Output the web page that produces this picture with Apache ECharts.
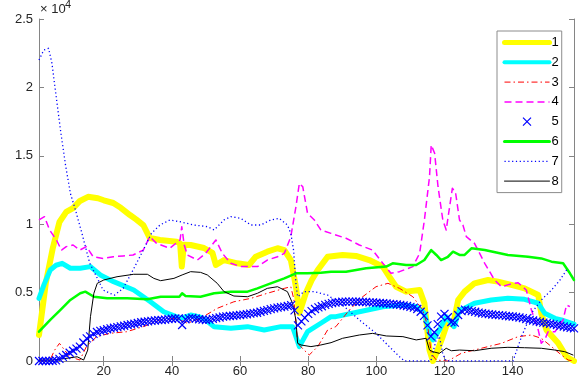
<!DOCTYPE html>
<html>
<head>
<meta charset="utf-8">
<script src="https://cdn.jsdelivr.net/npm/echarts@6/dist/echarts.min.js"></script>
<style>
  html, body { margin: 0; padding: 0; background: #fff; }
  #chart { width: 582px; height: 381px; }
</style>
</head>
<body>
<div id="chart"></div>
<script>
// x 刻度
const xTicks = [20, 40, 60, 80, 100, 120, 140];
const legendNames = ["1", "2", "3", "4", "5", "6", "7", "8"];

// 各曲线 [x, y]
const s1 = [[1,1900],[3,5700],[5,8200],[7,10160],[9,10900],[11,11180],[13,11700],[15.4,12000],[18.3,11900],[20,11750],[22.8,11550],[25,11200],[27.7,10670],[29.5,10350],[31.6,9940],[33.5,8990],[36.5,8850],[41.4,8720],[42.4,8600],[42.9,6900],[43.5,8500],[45.5,8480],[49.4,8260],[51.9,7900],[52.9,7020],[55.3,7380],[59.2,7140],[62.6,7020],[64.6,7620],[68,7990],[71,8240],[73,8110],[74.9,7380],[75.6,6500],[76.4,5430],[77.4,3500],[79.3,4970],[81,5900],[82.8,6650],[85.7,7620],[90.1,7750],[94,7680],[97.9,7380],[101.9,6900],[103.8,6160],[105.8,5430],[108.7,5070],[112.7,5190],[114.1,4220],[115.6,800],[116.6,0],[118,800],[119.5,1800],[121,2900],[122.5,2600],[124,4460],[125.9,5070],[128.8,5680],[132.8,5920],[135.7,5800],[139.6,5560],[143.5,5310],[147.5,4830],[148.4,3490],[149.9,2270],[153.4,1290],[155.8,310],[158,0]];
const s2 = [[1,4580],[2.5,5600],[4.3,6650],[6,7000],[7.8,7140],[10.2,6780],[13.1,6780],[16.1,6900],[19,6290],[22.9,5800],[28.8,5190],[33.7,4330],[37.6,3600],[42.6,3120],[45.5,3360],[48.4,3200],[49.9,3000],[52.4,2510],[57.3,2390],[62.2,2510],[67.1,2270],[72,2510],[75.4,2510],[76.4,1780],[77.4,1050],[79.8,2140],[83.7,2760],[86.7,3240],[88.1,3240],[95,3600],[101.9,3970],[107.8,4090],[111.7,3970],[114.1,3490],[115.6,2020],[116.6,1540],[118.5,2270],[120.5,3240],[122,2760],[122.8,2510],[124.4,3730],[125.9,3850],[128.8,4220],[133.7,4460],[138.6,4580],[143.5,4510],[147.5,4220],[149.4,3490],[152.4,3120],[154.3,3000],[158,2700]];
const s3 = [[1,0],[4.1,0],[5.6,800],[7,1290],[8.5,800],[10,310],[13,70],[14.9,1050],[17.9,1780],[21.8,2020],[26.7,2140],[31.6,2510],[36.5,3000],[41.4,3120],[44.5,2760],[48.4,3120],[53.3,3850],[58.2,4330],[63.2,4580],[68,4950],[73,5310],[74.9,5430],[75.8,4500],[76.9,1290],[78.8,800],[80.3,440],[82.8,1050],[85.7,2270],[88.1,2510],[92.1,3730],[96,4700],[99.9,5430],[103.4,5680],[106.8,5310],[110.7,4700],[113.6,3730],[115.1,2510],[116.1,560],[117.6,70],[121,0],[124.9,560],[130.8,930],[136.7,1290],[141.6,1780],[145.5,1900],[148.4,1660],[151.4,1050],[154.3,440],[156.3,70],[158,0]];
const s4 = [[1,10310],[2.6,10550],[4.1,9580],[6.1,8850],[7.6,8110],[9,8360],[11,8480],[13,8110],[14.9,8360],[16.9,7620],[19.8,7500],[22.8,7620],[25.7,7680],[28.6,7750],[31.6,8110],[33.5,9090],[35.5,8600],[39.4,8240],[42.4,8850],[42.9,9820],[43.6,8500],[44.5,7750],[47.5,7380],[49.9,7870],[52.9,8850],[54.8,7870],[57.3,7140],[60.2,6900],[65.1,6900],[68,7380],[71,7620],[73,7870],[74.9,9090],[76.4,11280],[77.4,12990],[78.4,12740],[79.8,10800],[81.8,10310],[83.7,9580],[86.7,9330],[91.1,8970],[95,8480],[98.9,8110],[101.9,7140],[104.3,6410],[106.8,6530],[110.7,6900],[112.7,7870],[114.1,10310],[115.6,13470],[116.1,15790],[117.1,15180],[118.1,12740],[119.5,10310],[120.5,9580],[121.5,11280],[122.3,12620],[123.2,12380],[124.4,10310],[125.4,9940],[126.4,9090],[128.8,8600],[131.8,7140],[134.7,5920],[136.7,5430],[139,5600],[141.6,5720],[144,5190],[145.5,3730],[147.5,2270],[148.4,1290],[149.5,1600],[150.4,2140],[152.4,2140],[154.8,3000],[155.8,4090],[156.8,3970]];
// 5 号是标记点, x = 1..158
const s5 = [
  0,0,0,0,20,50,150,300,440,600,
  750,900,1050,1350,1650,1800,1980,2120,2200,2250,
  2320,2390,2430,2480,2530,2580,2630,2680,2720,2780,
  2830,2870,2900,2930,2960,2990,3000,3030,3060,3090,
  3110,3120,2630,3050,3120,3150,3100,3050,3020,3000,
  3020,3080,3130,3180,3240,3260,3290,3310,3340,3360,
  3390,3420,3460,3500,3530,3600,3660,3720,3790,3850,
  3900,3940,3970,4020,4080,3700,2600,2900,3150,3450,
  3650,3800,3920,4000,4100,4180,4230,4270,4300,4330,
  4340,4340,4340,4330,4330,4320,4310,4290,4280,4260,
  4240,4220,4200,4180,4160,4130,4100,4060,4020,3960,
  3900,3800,3600,3300,2600,1800,2100,2700,3240,3450,
  3200,2850,2800,3360,3650,3750,3700,3650,3600,3540,
  3490,3460,3430,3400,3370,3350,3330,3300,3270,3250,
  3220,3180,3130,3070,3010,2960,2900,2850,2800,2770,
  2720,2680,2630,2570,2520,2470,2420,2390
];
const s6 = [[1,2140],[4.3,3000],[7.3,3730],[10.2,4460],[13.1,4950],[14.6,5070],[17.1,4700],[21,4580],[26.9,4580],[32.8,4510],[36.7,4700],[42.2,4700],[43,4950],[44,4750],[48.4,4700],[52.4,4950],[57.3,5070],[62.2,5070],[65.1,5310],[69,5680],[73,6040],[76.4,6410],[79.8,6410],[83.7,6450],[86.7,6530],[91.1,6530],[97,6780],[102.9,6900],[104.8,7140],[108.7,7020],[111.7,7020],[114.1,7380],[116.1,8110],[117.6,7750],[119,7380],[121,7620],[122.5,7990],[124.4,7750],[125.9,7750],[127.9,8240],[131.8,8110],[138.6,7750],[144.5,7620],[148.4,7500],[151.4,7260],[154.8,7140],[156.8,6410],[158,5920]];
const s7 = [[1,22000],[2.4,22730],[3.8,22860],[4.8,21760],[5.8,19800],[6.8,17860],[7.3,16900],[8.7,14450],[10.2,12260],[11.7,11040],[13.6,9330],[15.9,7140],[17.9,6160],[19.8,5190],[21.8,4950],[23.2,4820],[25.7,5310],[28.6,6650],[31.6,8110],[34,9330],[36.5,9940],[39.4,10310],[42.4,10180],[46.5,9940],[50.4,9820],[52.4,9580],[55.3,10310],[57.3,10550],[60.2,10430],[63.2,9940],[66.1,9940],[69,10310],[71.5,10430],[73.9,9940],[74.9,9330],[75.7,8110],[76.4,5680],[76.9,4700],[78.8,5070],[81.8,5070],[85.7,4820],[90.1,4090],[95,3000],[99.9,2020],[103.8,1050],[106.8,310],[108.3,0],[116,0],[117.5,1500],[118.5,1800],[119.5,500],[120.5,0],[140.1,0],[142.6,1780],[145.5,3490],[148.4,4460],[151.4,5190],[153.9,5920],[155.8,6650],[156.3,6780]];
const s8 = [[1,70],[5,70],[9.2,200],[12.2,310],[14.1,70],[15.3,800],[16.1,3240],[17.1,4950],[18.1,5680],[20,5920],[23.9,6160],[28.8,6340],[32.8,6340],[34.7,6040],[36.7,5870],[40.6,6040],[43,6290],[45.5,6530],[48.4,6480],[50.4,6290],[53.3,5680],[55.3,5070],[58.2,4750],[62.2,4700],[65.1,4950],[68,5310],[71,5430],[73.9,5070],[75.4,4220],[76.4,3000],[76.9,1290],[77.9,1170],[80.8,1050],[83.7,1170],[86.7,1340],[90.1,1660],[95,1900],[98.9,2020],[102.9,1830],[107.8,1780],[111.7,1540],[114.6,1660],[115.6,800],[116.6,680],[118.5,560],[120.5,930],[122,750],[124.4,800],[128.8,750],[133.7,930],[138.6,1000],[143.5,970],[148.4,930],[152.4,800],[155.3,680],[157.7,440]];

const axisColor = "#858585";
const textColor = "#262626";
const font = "Liberation Sans";
const crossPath = "path://M0,0L10,10M10,0L0,10";

function lineSeries(name, data, color, width, type, cap) {
  return {
    name: name,
    type: "line",
    data: data,
    symbol: "none",
    smooth: false,
    lineStyle: { color: color, width: width, type: type || "solid", cap: cap || "round", join: "round" },
    itemStyle: { color: color },
    emphasis: { disabled: true },
  };
}

function xAxisOpt(pos, showLabel) {
  return {
    type: "value",
    position: pos,
    min: 1,
    max: 158,
    axisLine: { show: true, lineStyle: { color: axisColor, width: 1 } },
    axisTick: { show: true, inside: true, length: 5, customValues: xTicks, lineStyle: { color: axisColor } },
    axisLabel: { show: showLabel, customValues: xTicks, color: textColor, fontSize: 13, fontFamily: font, margin: 4 },
    splitLine: { show: false },
  };
}

function yAxisOpt(pos, showLabel) {
  return {
    type: "value",
    position: pos,
    min: 0,
    max: 25000,
    interval: 5000,
    axisLine: { show: true, lineStyle: { color: axisColor, width: 1 } },
    axisTick: { show: true, inside: true, length: 5, lineStyle: { color: axisColor } },
    axisLabel: {
      show: showLabel,
      color: textColor,
      fontSize: 13,
      fontFamily: font,
      margin: 6,
      formatter: (v) => String(v / 10000),
    },
    splitLine: { show: false },
  };
}

// 图例里只画线, 不画点
const hideDot = { opacity: 0 };

const chart = echarts.init(document.getElementById("chart"), null, { renderer: "canvas" });

const option = {
  animation: false,
  backgroundColor: "#fff",
  grid: { left: 39, right: 8, top: 19, bottom: 20, containLabel: false, outerBoundsMode: "none" },
  xAxis: [xAxisOpt("bottom", true), xAxisOpt("top", false)],
  yAxis: [yAxisOpt("left", true), yAxisOpt("right", false)],
  graphic: [
    { type: "text", left: 40, top: 3, style: { text: "× 10", font: "13px 'Liberation Sans'", fill: textColor } },
    { type: "text", left: 65, top: -1, style: { text: "4", font: "11px 'Liberation Sans'", fill: textColor } },
  ],
  legend: {
    orient: "vertical",
    left: 497,
    top: 31,
    padding: [5, 3, 5, 5],
    itemWidth: 45,
    itemHeight: 10,
    itemGap: 6.8,
    borderColor: "#8c8c8c",
    borderWidth: 1,
    backgroundColor: "#fff",
    selectedMode: false,
    textStyle: { fontSize: 13, fontFamily: font, color: "#000", lineHeight: 10, padding: [0, 0, 0, -3] },
    data: [
      { name: legendNames[0], lineStyle: { width: 5 }, itemStyle: hideDot },
      { name: legendNames[1], lineStyle: { width: 4 }, itemStyle: hideDot },
      { name: legendNames[2], lineStyle: { width: 1 }, itemStyle: hideDot },
      { name: legendNames[3], lineStyle: { width: 1.5 }, itemStyle: hideDot },
      { name: legendNames[4], itemStyle: { borderWidth: 1.2, borderColor: "#0000ff" } },
      { name: legendNames[5], lineStyle: { width: 3 }, itemStyle: hideDot },
      { name: legendNames[6], lineStyle: { width: 1.3 }, itemStyle: hideDot },
      { name: legendNames[7], lineStyle: { width: 1 }, itemStyle: hideDot },
    ],
  },
  series: [
    lineSeries(legendNames[0], s1, "#ffff00", 6),
    lineSeries(legendNames[1], s2, "#00ffff", 5),
    lineSeries(legendNames[2], s3, "#ff0000", 1, [6, 3, 1.5, 3], "butt"),
    lineSeries(legendNames[3], s4, "#ff00ff", 1.5, [7, 4], "butt"),
    {
      name: legendNames[4],
      type: "line",
      data: s5.map((v, i) => [i + 1, v]),
      symbol: crossPath,
      symbolSize: 8,
      showAllSymbol: true,
      lineStyle: { width: 0, opacity: 0 },
      itemStyle: { color: "#0000ff", borderColor: "#0000ff", borderWidth: 1.2 },
      emphasis: { disabled: true },
    },
    lineSeries(legendNames[5], s6, "#00ff00", 2.5),
    lineSeries(legendNames[6], s7, "#0000ff", 1.3, [1.2, 2.6], "butt"),
    lineSeries(legendNames[7], s8, "#000000", 1),
  ],
};

chart.setOption(option);
</script>
</body>
</html>
